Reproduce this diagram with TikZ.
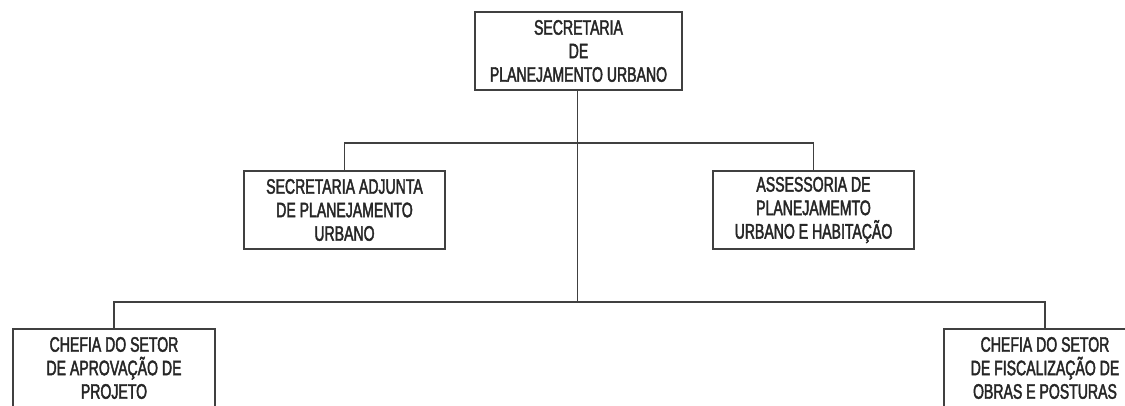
\documentclass[tikz,border=0pt]{standalone}
\usepackage{fontspec}
\setmainfont{Liberation Sans}[FakeStretch=0.67,FakeBold=2]
\begin{document}
\begin{tikzpicture}[x=1pt,y=-1pt,
  box/.style={draw=black!75,line width=1.3pt,rectangle,inner sep=0pt,
    minimum width=#1,minimum height=78pt,align=center,text=black!85,
    font=\fontsize{21}{23.5}\selectfont},
  conn/.style={draw=black!75,line width=1.3pt}]
\useasboundingbox (0,0) rectangle (1125,406);
\clip (0,0) rectangle (1125,406);
\fill[white] (0,0) rectangle (1125,406);
\node[box=207pt] (top) at (578.5,51) {SECRETARIA\\DE\\PLANEJAMENTO URBANO};
\node[box=201pt] (adj) at (344.5,210) {SECRETARIA ADJUNTA\\DE PLANEJAMENTO\\URBANO};
\node[box=201pt] (ass) at (813.5,210) {ASSESSORIA DE\\PLANEJAMEMTO\\URBANO E HABITAÇÃO};
\node[box=202pt] (apr) at (114,368) {CHEFIA DO SETOR\\DE APROVAÇÃO DE\\PROJETO};
\node[box=202pt] (fis) at (1045,368) {CHEFIA DO SETOR\\DE FISCALIZAÇÃO DE\\OBRAS E POSTURAS};
\coordinate (j1) at (577.5,143);
\coordinate (j2) at (577.5,302);
\draw[conn] (top.south -| j1) -- (j2);
\draw[conn] (adj.north) |- (j1) -| (ass.north);
\draw[conn] (apr.north) |- (j2) -| (fis.north);
\end{tikzpicture}
\end{document}
